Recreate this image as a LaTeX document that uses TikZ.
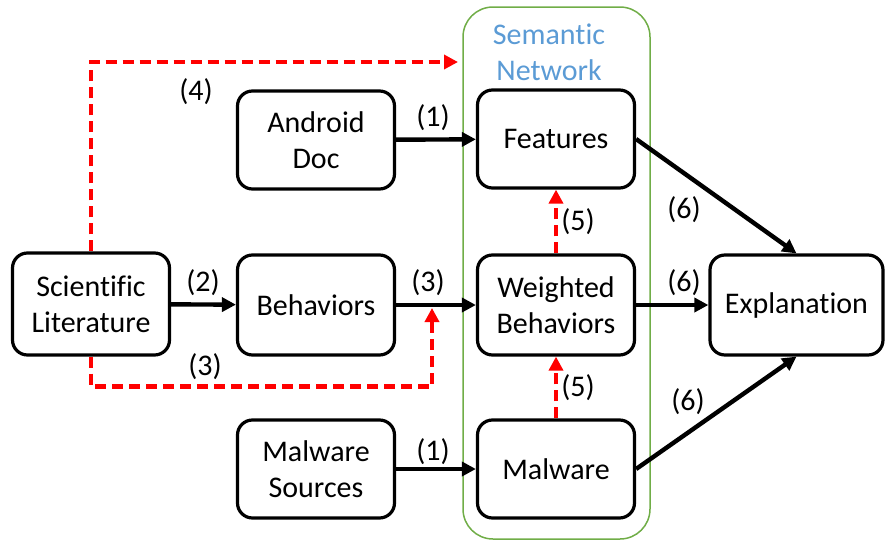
\documentclass[tikz,border=0pt]{standalone}
\usepackage{fontspec}
\setmainfont[Ligatures=CommonOff]{Carlito}
\usetikzlibrary{arrows.meta}
\definecolor{netgreen}{RGB}{112,173,71}
\definecolor{netblue}{RGB}{91,155,213}

\begin{document}
\begin{tikzpicture}[x=0.5pt,y=-0.5pt,
  box/.style={draw, line width=1.6pt, rounded corners=7.5pt, align=center, inner sep=0pt, minimum width=78.5pt, minimum height=49pt, font=\fontsize{15}{18}\selectfont},
  flow/.style={line width=2.2pt, -{Triangle[length=7pt,width=7pt]}},
  ref/.style={red, line width=2.4pt, dash pattern=on 5.5pt off 3pt, -{Triangle[length=7pt,width=7pt]}},
  lbl/.style={font=\fontsize{15}{18}\selectfont}]
\useasboundingbox (0,0) rectangle (885,542);
\draw[netgreen, line width=0.75pt, rounded corners=15pt] (463,7) rectangle (650,539);
\node[lbl, netblue, align=center] (netlbl) at (549,52) {Semantic\\Network};

\node[box, minimum height=51pt] (lit) at (91,304) {Scientific\\Literature};
\node[box] (doc) at (316,140) {Android\\Doc};
\node[box, minimum height=50pt] (beh) at (316,305) {Behaviors};
\node[box] (src) at (316,469) {Malware\\Sources};
\node[box] (feat) at (556,139) {Features};
\node[box, minimum height=50pt] (wbeh) at (556,305) {Weighted\\Behaviors};
\node[box] (mal) at (556,469) {Malware};
\node[box, minimum width=86.5pt, minimum height=50pt] (expl) at (796.5,305) {Explanation};

\coordinate (top) at (458,62);
\coordinate (low) at (432,308);

\draw[flow] (doc) -- (feat);
\draw[flow] (lit) -- (beh);
\draw[flow] (beh) -- (wbeh);
\draw[flow] (src) -- (mal);
\draw[flow] (wbeh) -- (expl);
\draw[flow] (feat.east) -- (expl.north);
\draw[flow] (mal.east) -- (expl.south);

\draw[ref] (lit.north) |- (top);
\draw[ref] (lit.south) -- ++(0,30) -| (low);
\draw[ref] (mal) -- (wbeh);
\draw[ref] (wbeh) -- (feat);

\node[lbl] (l4) at (196,92) {(4)};
\node[lbl] (l1a) at (433,118) {(1)};
\node[lbl] (l2) at (203,283) {(2)};
\node[lbl] (l3a) at (428,283) {(3)};
\node[lbl] (l3b) at (205,367) {(3)};
\node[lbl] (l1b) at (433,452) {(1)};
\node[lbl] (l5a) at (578,222) {(5)};
\node[lbl] (l5b) at (578,388) {(5)};
\node[lbl] (l6a) at (684,210) {(6)};
\node[lbl] (l6b) at (684,283) {(6)};
\node[lbl] (l6c) at (688,402) {(6)};
\end{tikzpicture}
\end{document}
